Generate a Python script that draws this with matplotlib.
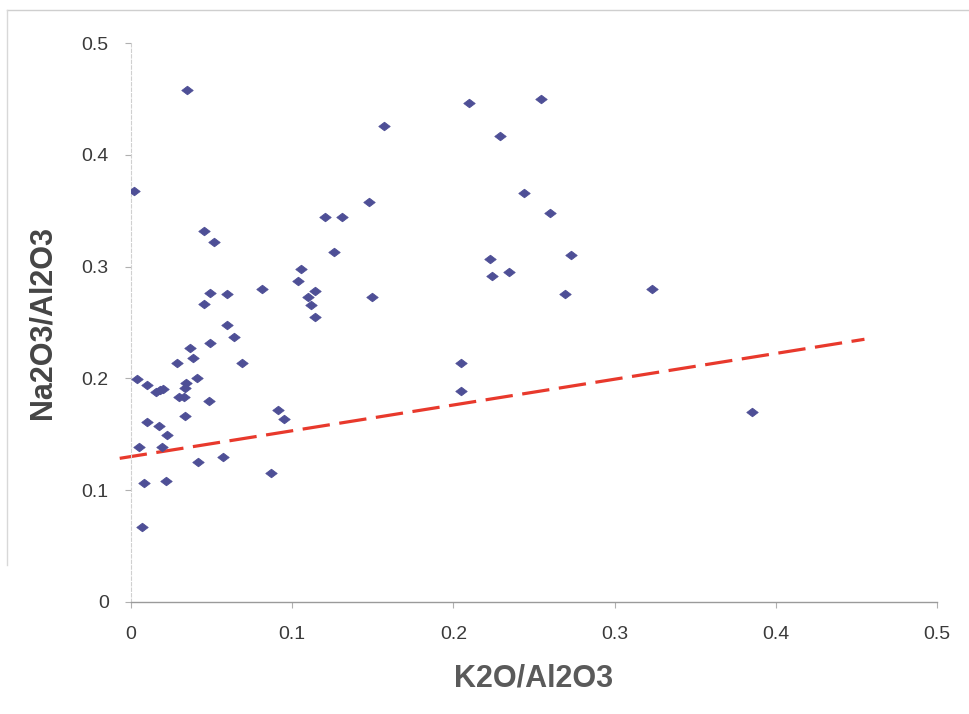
import matplotlib
matplotlib.use("Agg")
import matplotlib.pyplot as plt
from matplotlib.lines import Line2D
from matplotlib.path import Path

plt.rcParams['font.family'] = ['Liberation Sans', 'DejaVu Sans']

# K2O/Al2O3 vs Na2O3/Al2O3 sample ratios
k2o_al2o3 = [
    0.0035, 0.0098, 0.0158, 0.0179, 0.0199, 0.0288, 0.0382, 0.0365, 0.0407, 0.0341,
    0.0334, 0.0299, 0.0330, 0.0486, 0.0336, 0.0098, 0.0174, 0.0226, 0.0050, 0.0195,
    0.0417, 0.0573, 0.0081, 0.0220, 0.0068, 0.0870, 0.0911, 0.0948, 0.0492, 0.0596,
    0.0455, 0.0811, 0.0596, 0.0641, 0.0492, 0.0687, 0.0347, 0.0017, 0.0450, 0.0512,
    0.1052, 0.1035, 0.1100, 0.1139, 0.1116, 0.1139, 0.1206, 0.1309, 0.1262, 0.1476,
    0.1493, 0.1569, 0.2098, 0.2545, 0.2290, 0.2439, 0.2601, 0.2227, 0.2727, 0.2237,
    0.2347, 0.2692, 0.3232, 0.2047, 0.2047, 0.3854,
]
na2o3_al2o3 = [
    0.1992, 0.1941, 0.1876, 0.1896, 0.1903, 0.2135, 0.2180, 0.2269, 0.2006, 0.1956,
    0.1911, 0.1836, 0.1831, 0.1801, 0.1664, 0.1607, 0.1574, 0.1496, 0.1384, 0.1384,
    0.1255, 0.1294, 0.1062, 0.1085, 0.0674, 0.1151, 0.1715, 0.1634, 0.2761, 0.2752,
    0.2663, 0.2800, 0.2478, 0.2368, 0.2314, 0.2135, 0.4582, 0.3676, 0.3316, 0.3220,
    0.2979, 0.2871, 0.2728, 0.2782, 0.2654, 0.2549, 0.3446, 0.3446, 0.3131, 0.3575,
    0.2728, 0.4255, 0.4466, 0.4502, 0.4168, 0.3661, 0.3482, 0.3068, 0.3104, 0.2919,
    0.2954, 0.2752, 0.2800, 0.2135, 0.1887, 0.1699,
]

# linear trend line end points
trend_x = [-0.007, 0.455]
trend_y = [0.1285, 0.235]

x_ticks = [0, 0.1, 0.2, 0.3, 0.4, 0.5]
y_ticks = [0, 0.1, 0.2, 0.3, 0.4, 0.5]
tick_labels = ['0', '0.1', '0.2', '0.3', '0.4', '0.5']

# slightly flattened diamond marker
flat_diamond = Path([(-1.0, 0.0), (0.0, 0.75), (1.0, 0.0), (0.0, -0.75), (-1.0, 0.0)],
                    [Path.MOVETO, Path.LINETO, Path.LINETO, Path.LINETO, Path.CLOSEPOLY])

fig = plt.figure(figsize=(9.70, 7.14), dpi=100, facecolor='white')
ax = fig.add_axes([131 / 970, 1 - 602 / 714, (937 - 131) / 970, (602 - 43) / 714])
ax.set_facecolor('white')

ax.plot(k2o_al2o3, na2o3_al2o3, linestyle='none', marker=flat_diamond, markersize=8.2,
        markerfacecolor='#4e4f96', markeredgecolor='#4e4f96', markeredgewidth=0.6,
        zorder=3)

ax.plot(trend_x, trend_y, color='#e8392c', linewidth=2.3,
        dashes=(8.6, 3.0), clip_on=False, zorder=2)

ax.set_xlim(0, 0.5)
ax.set_ylim(0, 0.5)
ax.set_xticks(x_ticks)
ax.set_yticks(y_ticks)
ax.set_xticklabels(tick_labels)
ax.set_yticklabels(tick_labels)

for side in ('top', 'right'):
    ax.spines[side].set_visible(False)
ax.spines['bottom'].set_color('#9a9a9a')
ax.spines['bottom'].set_linewidth(1.0)
ax.spines['left'].set_color('#d0d0d0')
ax.spines['left'].set_linewidth(0.8)
ax.spines['left'].set_linestyle((0, (3, 2)))

ax.tick_params(axis='both', direction='out', length=4, width=0.8,
               color='#b0b0b0', labelsize=14, labelcolor='#3a3a3a')
ax.tick_params(axis='x', pad=13)
ax.tick_params(axis='y', pad=12)

ax.set_xlabel('K2O/Al2O3', fontsize=22, fontweight='bold', color='#5a5a5a', labelpad=15)
ax.set_ylabel('Na2O3/Al2O3', fontsize=22, fontweight='bold', color='#454545', labelpad=17)

# faint outer frame of the chart area
fig.add_artist(Line2D([7 / 970, 1.0], [1 - 10 / 714, 1 - 10 / 714],
                      transform=fig.transFigure, color='#cfcfcf', linewidth=1.0))
fig.add_artist(Line2D([7 / 970, 7 / 970], [1 - 10 / 714, 1 - 565 / 714],
                      transform=fig.transFigure, color='#d8d8d8', linewidth=1.0))

fig.savefig('out.png', dpi=100, facecolor='white')
